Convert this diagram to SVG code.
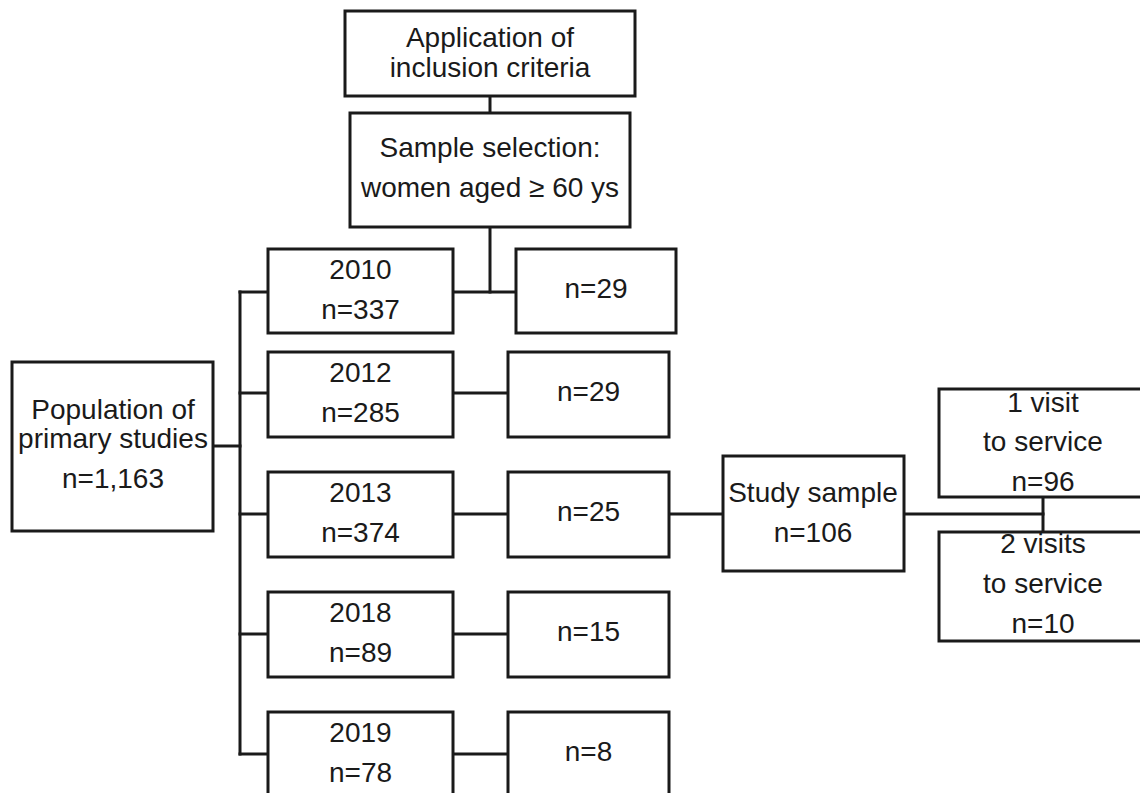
<svg xmlns="http://www.w3.org/2000/svg" width="1140" height="793" viewBox="0 0 1140 793">
<style>
rect{fill:#fff;stroke:#1a1a1a;stroke-width:3}
text{font-family:"Liberation Sans",Arial,sans-serif;font-size:28px;fill:#1a1a1a;text-anchor:middle}
.c line{stroke:#1a1a1a;stroke-width:3;stroke-linecap:square}
</style>
<rect x="0" y="0" width="1140" height="793" style="fill:#fff;stroke:none"/>
<g class="c" id="connectors">
<line x1="490" y1="96" x2="490" y2="113"/>
<line x1="490" y1="227" x2="490" y2="292"/>
<line x1="453" y1="292" x2="516" y2="292"/>
<line x1="213" y1="446" x2="240" y2="446"/>
<line x1="240" y1="292" x2="240" y2="754"/>
<line x1="240" y1="292" x2="268" y2="292"/>
<line x1="240" y1="393" x2="268" y2="393"/>
<line x1="240" y1="514" x2="268" y2="514"/>
<line x1="240" y1="634" x2="268" y2="634"/>
<line x1="240" y1="754" x2="268" y2="754"/>
<line x1="453" y1="393" x2="508" y2="393"/>
<line x1="453" y1="514" x2="508" y2="514"/>
<line x1="453" y1="634" x2="508" y2="634"/>
<line x1="453" y1="754" x2="508" y2="754"/>
<line x1="669" y1="514" x2="723" y2="514"/>
<line x1="904" y1="514" x2="1043" y2="514"/>
<line x1="1043" y1="497" x2="1043" y2="532"/>
</g>
<g id="n-criteria"><rect x="345" y="11" width="290" height="85"/><text x="490" y="47">Application of</text><text x="490" y="77">inclusion criteria</text></g>
<g id="n-selection"><rect x="350" y="113" width="280" height="114"/><text x="490" y="157">Sample selection:</text><text x="490" y="197">women aged ≥ 60 ys</text></g>
<g id="n-population"><rect x="12" y="362" width="201" height="169"/><text x="113" y="419">Population of</text><text x="113" y="448">primary studies</text><text x="113" y="488">n=1,163</text></g>
<g id="n-2010"><rect x="268" y="249" width="185" height="84"/><text x="360.5" y="279">2010</text><text x="360.5" y="319">n=337</text></g>
<g id="n-2012"><rect x="268" y="352" width="185" height="85"/><text x="360.5" y="382">2012</text><text x="360.5" y="422">n=285</text></g>
<g id="n-2013"><rect x="268" y="472" width="185" height="85"/><text x="360.5" y="502">2013</text><text x="360.5" y="542">n=374</text></g>
<g id="n-2018"><rect x="268" y="592" width="185" height="85"/><text x="360.5" y="622">2018</text><text x="360.5" y="662">n=89</text></g>
<g id="n-2019"><rect x="268" y="712" width="185" height="100"/><text x="360.5" y="742">2019</text><text x="360.5" y="782">n=78</text></g>
<g id="n-c2010"><rect x="516" y="249" width="160" height="84"/><text x="596" y="298">n=29</text></g>
<g id="n-c2012"><rect x="508" y="352" width="161" height="85"/><text x="588.5" y="401">n=29</text></g>
<g id="n-c2013"><rect x="508" y="472" width="161" height="85"/><text x="588.5" y="521">n=25</text></g>
<g id="n-c2018"><rect x="508" y="592" width="161" height="85"/><text x="588.5" y="641">n=15</text></g>
<g id="n-c2019"><rect x="508" y="712" width="161" height="100"/><text x="588.5" y="761">n=8</text></g>
<g id="n-study"><rect x="723" y="456" width="181" height="115"/><text x="813" y="502">Study sample</text><text x="813" y="542">n=106</text></g>
<g id="n-visit1"><rect x="939" y="389" width="220" height="108"/><text x="1043" y="412">1 visit</text><text x="1043" y="451">to service</text><text x="1043" y="491">n=96</text></g>
<g id="n-visit2"><rect x="939" y="532" width="220" height="109"/><text x="1043" y="553">2 visits</text><text x="1043" y="593">to service</text><text x="1043" y="633">n=10</text></g>
</svg>
